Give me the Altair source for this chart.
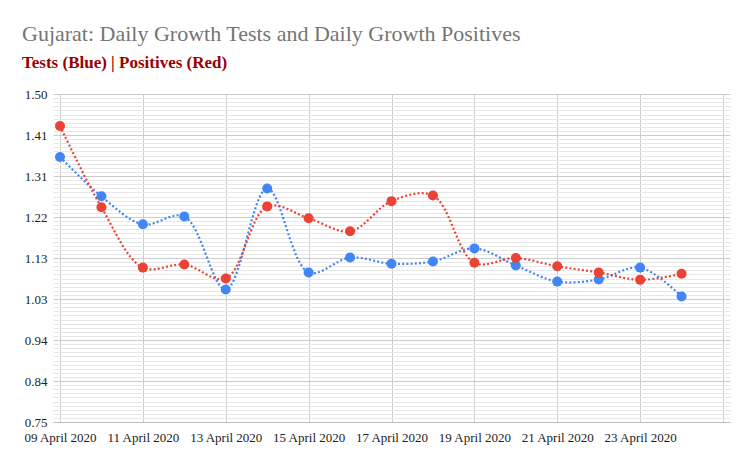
import altair as alt
import pandas as pd

dates = [
    "2020-04-09", "2020-04-10", "2020-04-11", "2020-04-12", "2020-04-13",
    "2020-04-14", "2020-04-15", "2020-04-16", "2020-04-17", "2020-04-18",
    "2020-04-19", "2020-04-20", "2020-04-21", "2020-04-22", "2020-04-23",
    "2020-04-24",
]
tests = [1.356, 1.266, 1.202, 1.220, 1.053, 1.284, 1.092, 1.126,
         1.112, 1.117, 1.147, 1.108, 1.071, 1.076, 1.103, 1.037]
positives = [1.427, 1.241, 1.103, 1.110, 1.078, 1.243, 1.216, 1.186,
             1.255, 1.268, 1.114, 1.125, 1.106, 1.092, 1.075, 1.089]

series_names = ["Tests", "Positives"]
series_colors = ["#4285f4", "#ea4335"]

y_min, y_max = 0.75, 1.50
y_major_step = 0.09375
y_minor_values = [round(y_min + i * y_major_step / 10, 6) for i in range(81)]
x_tick_days = [9, 11, 13, 15, 17, 19, 21, 23, 25]

df = pd.concat([
    pd.DataFrame({"date": dates, "value": tests, "series": "Tests"}),
    pd.DataFrame({"date": dates, "value": positives, "series": "Positives"}),
])

FONT = "Liberation Serif"
major_test = "abs(datum.value*32/3 - round(datum.value*32/3)) < 0.01"

x_enc = alt.X(
    "date:T",
    scale=alt.Scale(
        type="utc",
        domain=[alt.DateTime(year=2020, month=4, date=9, utc=True),
                alt.DateTime(year=2020, month=4, date=25, utc=True)],
        padding=7,
        nice=False,
    ),
    axis=alt.Axis(
        title=None,
        values=[alt.DateTime(year=2020, month=4, date=d, utc=True) for d in x_tick_days],
        format="%d %B %Y",
        labelExpr="utcdate(datum.value) == 25 ? '' : datum.label",
        labelFont=FONT,
        labelFontSize=13,
        labelColor="#222222",
        labelPadding=9,
        labelOverlap=False,
        ticks=False,
        grid=True,
        gridColor="#cccccc",
        gridWidth=1,
        domain=True,
        domainColor="#bdbdbd",
        domainWidth=1,
    ),
)

y_enc = alt.Y(
    "value:Q",
    scale=alt.Scale(domain=[y_min, y_max], nice=False, zero=False),
    axis=alt.Axis(
        title=None,
        values=y_minor_values,
        labelExpr=major_test + " ? format(datum.value, '.2f') : ''",
        labelFont=FONT,
        labelFontSize=13,
        labelColor="#222222",
        labelPadding=6,
        labelOverlap=False,
        ticks=False,
        domain=False,
        grid=True,
        gridColor={"condition": {"test": major_test, "value": "#cccccc"},
                   "value": "#e8e8e8"},
        gridWidth=1,
    ),
)

color_enc = alt.Color(
    "series:N",
    scale=alt.Scale(domain=series_names, range=series_colors),
    legend=None,
)

base = alt.Chart(df).encode(x=x_enc, y=y_enc, color=color_enc)

lines = base.mark_line(interpolate="catmull-rom", strokeDash=[2, 2.2], strokeWidth=2.2)
points = base.mark_circle(size=100, opacity=1)

chart = alt.layer(lines, points).properties(
    width=677,
    height=328,
    autosize="none",
    padding={"left": 45, "top": 86, "right": 15, "bottom": 40},
    title=alt.TitleParams(
        text="Gujarat: Daily Growth Tests and Daily Growth Positives",
        subtitle="Tests (Blue) | Positives (Red)",
        anchor="start",
        frame="group",
        dx=-31,
        font=FONT,
        fontSize=22,
        fontWeight="normal",
        color="#757575",
        subtitleFont=FONT,
        subtitleFontSize=17,
        subtitleFontWeight="bold",
        subtitleColor="#990000",
        subtitlePadding=9,
        offset=16,
    ),
).configure_view(stroke=None)

chart.save("out.html", embed_options={"renderer": "svg", "actions": False})
